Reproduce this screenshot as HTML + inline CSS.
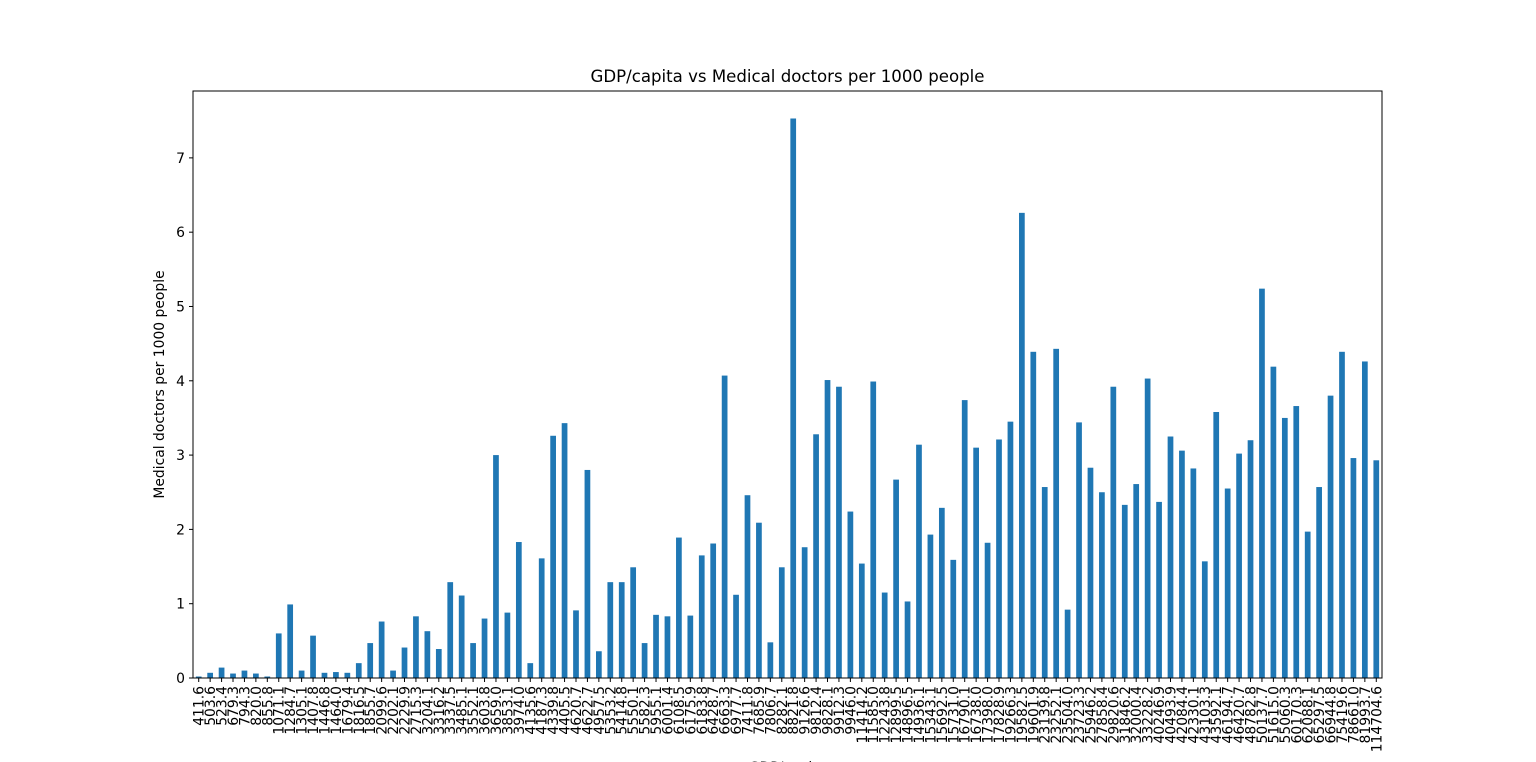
<!DOCTYPE html>
<html><head><meta charset="utf-8"><style>
body{margin:0;background:#fff;}
svg{display:block;font-family:"DejaVu Sans","Liberation Sans",sans-serif;}
</style></head><body>
<svg id="chart" width="1536" height="762"></svg>
<script>
const categories=["411.6","503.6","523.4","679.3","794.3","820.0","855.8","1071.1","1284.7","1305.1","1407.8","1446.8","1464.0","1679.4","1816.5","1855.7","2099.6","2202.1","2229.9","2715.3","3204.1","3316.2","3337.5","3485.1","3552.1","3603.8","3659.0","3853.1","3974.0","4135.6","4187.3","4339.8","4405.5","4620.7","4622.7","4957.5","5353.2","5414.8","5550.1","5582.3","5955.1","6001.4","6108.5","6175.9","6183.8","6428.7","6663.3","6977.7","7411.8","7685.9","7806.7","8282.1","8821.8","9126.6","9812.4","9828.1","9912.3","9946.0","11414.2","11585.0","12243.8","12899.5","14896.5","14936.1","15343.1","15692.5","15731.0","16790.1","16738.0","17398.0","17828.9","19266.3","19582.5","19601.9","23139.8","23252.1","23504.0","23723.3","25946.2","27858.4","29820.6","31846.2","32000.4","33228.2","40246.9","40493.9","42084.4","42330.1","43103.3","43592.1","46194.7","46420.7","48782.8","50137.7","51615.0","55060.3","60170.3","62088.1","65297.5","66944.8","75419.6","78661.0","81993.7","114704.6"];
const values=[0.02,0.07,0.14,0.06,0.1,0.06,0.02,0.6,0.99,0.1,0.57,0.07,0.08,0.07,0.2,0.47,0.76,0.1,0.41,0.83,0.63,0.39,1.29,1.11,0.47,0.8,3.0,0.88,1.83,0.2,1.61,3.26,3.43,0.91,2.8,0.36,1.29,1.29,1.49,0.47,0.85,0.83,1.89,0.84,1.65,1.81,4.07,1.12,2.46,2.09,0.48,1.49,7.53,1.76,3.28,4.01,3.92,2.24,1.54,3.99,1.15,2.67,1.03,3.14,1.93,2.29,1.59,3.74,3.1,1.82,3.21,3.45,6.26,4.39,2.57,4.43,0.92,3.44,2.83,2.5,3.92,2.33,2.61,4.03,2.37,3.25,3.06,2.82,1.57,3.58,2.55,3.02,3.2,5.24,4.19,3.5,3.66,1.97,2.57,3.8,4.39,2.96,4.26,2.93];
const yTicks=[0,1,2,3,4,5,6,7];
const NS="http://www.w3.org/2000/svg";
const svg=document.getElementById('chart');
const L=193,T=91,W=1189,H=587,yMax=7.9;
const band=W/categories.length;
const xs=i=>L+(i+0.5)*band;
const ys=v=>T+H-v/yMax*H;
function mk(tag,attrs,parent){const e=document.createElementNS(NS,tag);for(const k in attrs)e.setAttribute(k,attrs[k]);(parent||svg).appendChild(e);return e;}
const t=mk('text',{x:L+W/2,y:82,'text-anchor':'middle','font-size':16.6,fill:'#000'});
t.textContent='GDP/capita vs Medical doctors per 1000 people';


const g=mk('g',{});


values.forEach((v,i)=>{
  const r=mk('rect',{x:xs(i)-band*0.25,y:ys(v),width:band*0.5,height:ys(0)-ys(v),fill:'#1f77b4'},g);
  
  
});
const fr=mk('rect',{x:L,y:T,width:W,height:H,fill:'none',stroke:'#000','stroke-width':1});


yTicks.forEach(v=>{
  mk('line',{x1:L-4,x2:L,y1:ys(v),y2:ys(v),stroke:'#000'});
  const tx=mk('text',{x:L-8,y:ys(v)+5,'text-anchor':'end','font-size':13.9,fill:'#000'});
  tx.textContent=v;
  
  
});
categories.forEach((c,i)=>{
  const x=xs(i);
  mk('line',{x1:x,x2:x,y1:T+H,y2:T+H+4,stroke:'#000'});
  const tx=mk('text',{x:0,y:0,'text-anchor':'end','font-size':13.9,fill:'#000',transform:`translate(${x+5},${T+H+8}) rotate(-90)`});
  tx.textContent=c;
  
  
});
const yl=mk('text',{x:0,y:0,'text-anchor':'middle','font-size':13.9,fill:'#000',transform:`translate(164,${T+H/2}) rotate(-90)`});
yl.textContent='Medical doctors per 1000 people';


const xl=mk('text',{x:L+W/2,y:772,'text-anchor':'middle','font-size':13.9,fill:'#000'});
xl.textContent='GDP/capita';


</script>
</body></html>
